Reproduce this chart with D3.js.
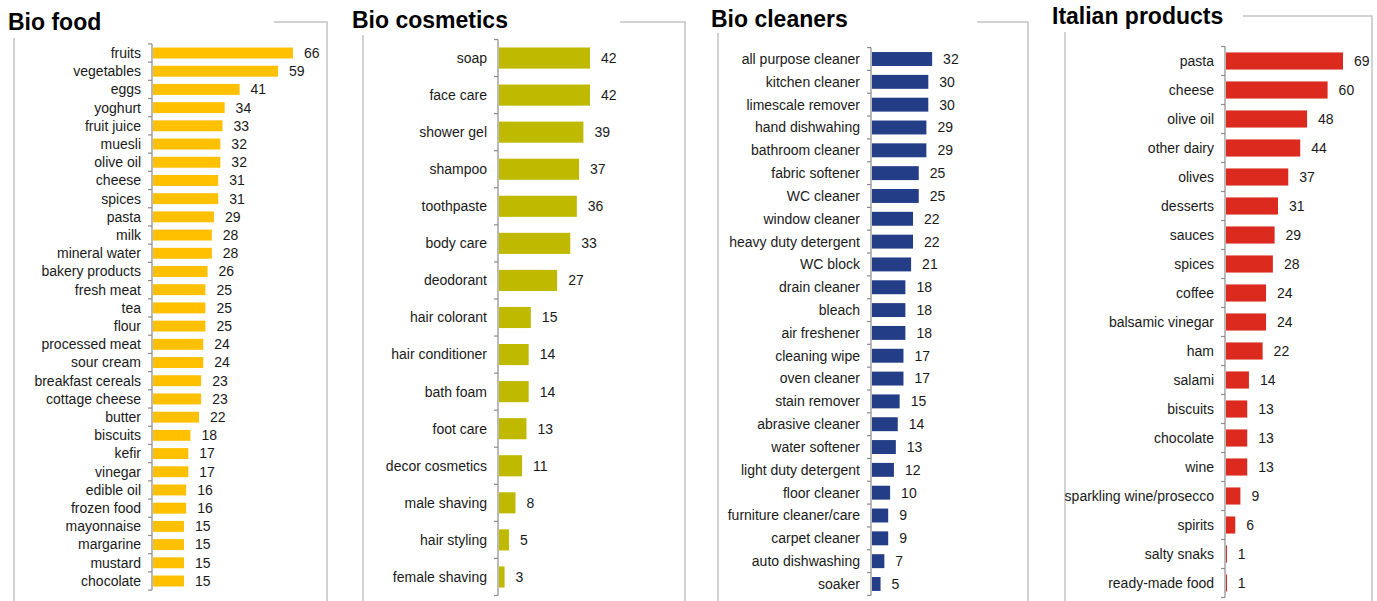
<!DOCTYPE html>
<html>
<head>
<meta charset="utf-8">
<script src="https://cdn.jsdelivr.net/npm/d3@7"></script>
<style>
body { margin: 0; background: #fff; }
text { font-family: Arial, "Liberation Sans", sans-serif; }
</style>
</head>
<body>
<div id="chart"></div>
<script>
// data
var foodCats = ["fruits","vegetables","eggs","yoghurt","fruit juice","muesli","olive oil","cheese","spices","pasta","milk","mineral water","bakery products","fresh meat","tea","flour","processed meat","sour cream","breakfast cereals","cottage cheese","butter","biscuits","kefir","vinegar","edible oil","frozen food","mayonnaise","margarine","mustard","chocolate"];
var foodVals = [66,59,41,34,33,32,32,31,31,29,28,28,26,25,25,25,24,24,23,23,22,18,17,17,16,16,15,15,15,15];

var cosmCats = ["soap","face care","shower gel","shampoo","toothpaste","body care","deodorant","hair colorant","hair conditioner","bath foam","foot care","decor cosmetics","male shaving","hair styling","female shaving"];
var cosmVals = [42,42,39,37,36,33,27,15,14,14,13,11,8,5,3];

var cleanCats = ["all purpose cleaner","kitchen cleaner","limescale remover","hand dishwahing","bathroom cleaner","fabric softener","WC cleaner","window cleaner","heavy duty detergent","WC block","drain cleaner","bleach","air freshener","cleaning wipe","oven cleaner","stain remover","abrasive cleaner","water softener","light duty detergent","floor cleaner","furniture cleaner/care","carpet cleaner","auto dishwashing","soaker"];
var cleanVals = [32,30,30,29,29,25,25,22,22,21,18,18,18,17,17,15,14,13,12,10,9,9,7,5];

var italCats = ["pasta","cheese","olive oil","other dairy","olives","desserts","sauces","spices","coffee","balsamic vinegar","ham","salami","biscuits","chocolate","wine","sparkling wine/prosecco","spirits","salty snaks","ready-made food"];
var italVals = [69,60,48,44,37,31,29,28,24,24,22,14,13,13,13,9,6,1,1];

var titles = ["Bio food","Bio cosmetics","Bio cleaners","Italian products"];
var colors = ["#FFC000","#BFBA00","#233E87","#DC2A1E"];

var W = 1377, H = 601;

// layout of each panel (pixels)
var panels = [
	{cats: foodCats, vals: foodVals, title: titles[0], color: colors[0],
	 tx: 8, ty: 30, fl: 14, ft: 22, fr: 327, ls: 38, ts: 274,
	 ax: 152, per100: 213.6, y0: 43.9, y1: 590.1, pad: 0.4},
	{cats: cosmCats, vals: cosmVals, title: titles[1], color: colors[1],
	 tx: 352, ty: 28, fl: 363, ft: 22, fr: 685, ls: 35, ts: 620,
	 ax: 498, per100: 219, y0: 39.5, y1: 595.5, pad: 0.43},
	{cats: cleanCats, vals: cleanVals, title: titles[2], color: colors[2],
	 tx: 711, ty: 27, fl: 718, ft: 22, fr: 1028, ls: 33, ts: 977,
	 ax: 871, per100: 191, y0: 47.6, y1: 595.4, pad: 0.39},
	{cats: italCats, vals: italVals, title: titles[3], color: colors[3],
	 tx: 1052, ty: 24, fl: 1065, ft: 16, fr: 1372, ls: 32, ts: 1243,
	 ax: 1225, per100: 171, y0: 46.5, y1: 597.5, pad: 0.41}
];

var svg = d3.select("#chart").append("svg")
	.attr("width", W)
	.attr("height", H);

panels.forEach(function(p){
	var g = svg.append("g");

	//frame (partly hidden by the title)
	g.append("line")
		.attr("x1", p.fl).attr("y1", p.ls)
		.attr("x2", p.fl).attr("y2", H + 5)
		.attr("stroke", "#c4c4c4").attr("stroke-width", 1.5);
	g.append("path")
		.attr("d", "M" + p.ts + "," + p.ft + "H" + p.fr + "V" + (H + 5))
		.attr("fill", "none")
		.attr("stroke", "#c4c4c4").attr("stroke-width", 1.5);

	g.append("text")
		.attr("x", p.tx).attr("y", p.ty)
		.text(p.title)
		.attr("font-size", "23px")
		.attr("font-weight", "bold")
		.attr("fill", "#000");

	var x = d3.scaleLinear().domain([0, 100]).range([p.ax, p.ax + p.per100]);
	var y = d3.scaleBand().domain(p.cats).range([p.y0, p.y1]).paddingInner(p.pad).paddingOuter(p.pad / 2);

	var rows = p.cats.map(function(c, i){ return {cat: c, val: p.vals[i]}; });

	g.selectAll(".bar").data(rows).enter().append("rect")
		.attr("class", "bar")
		.attr("x", x(0) + 1)
		.attr("y", function(d){ return y(d.cat); })
		.attr("width", function(d){ return Math.max(x(d.val) - x(0) - 1, 1); })
		.attr("height", y.bandwidth())
		.attr("fill", p.color);

	// category axis: line + ticks at band boundaries
	var step = y.step();
	var bounds = p.cats.map(function(c){ return y(c) - (step - y.bandwidth()) / 2; });
	bounds.push(bounds[bounds.length - 1] + step);
	g.append("line")
		.attr("x1", x(0)).attr("y1", bounds[0])
		.attr("x2", x(0)).attr("y2", bounds[bounds.length - 1])
		.attr("stroke", "#8c8c8c").attr("stroke-width", 1.2);
	g.selectAll(".tick").data(bounds).enter().append("line")
		.attr("x1", x(0) - 4).attr("x2", x(0))
		.attr("y1", function(d){ return d; })
		.attr("y2", function(d){ return d; })
		.attr("stroke", "#8c8c8c").attr("stroke-width", 1.2);

	g.selectAll(".cat").data(rows).enter().append("text")
		.attr("x", x(0) - 11)
		.attr("y", function(d){ return y(d.cat) + y.bandwidth() / 2; })
		.attr("dy", "0.35em")
		.attr("text-anchor", "end")
		.attr("font-size", "14px")
		.attr("fill", "#1a1a1a")
		.text(function(d){ return d.cat; });

	g.selectAll(".val").data(rows).enter().append("text")
		.attr("x", function(d){ return x(d.val) + 11; })
		.attr("y", function(d){ return y(d.cat) + y.bandwidth() / 2; })
		.attr("dy", "0.35em")
		.attr("font-size", "14px")
		.attr("fill", "#1a1a1a")
		.text(function(d){ return d.val; });
});
</script>
</body>
</html>
